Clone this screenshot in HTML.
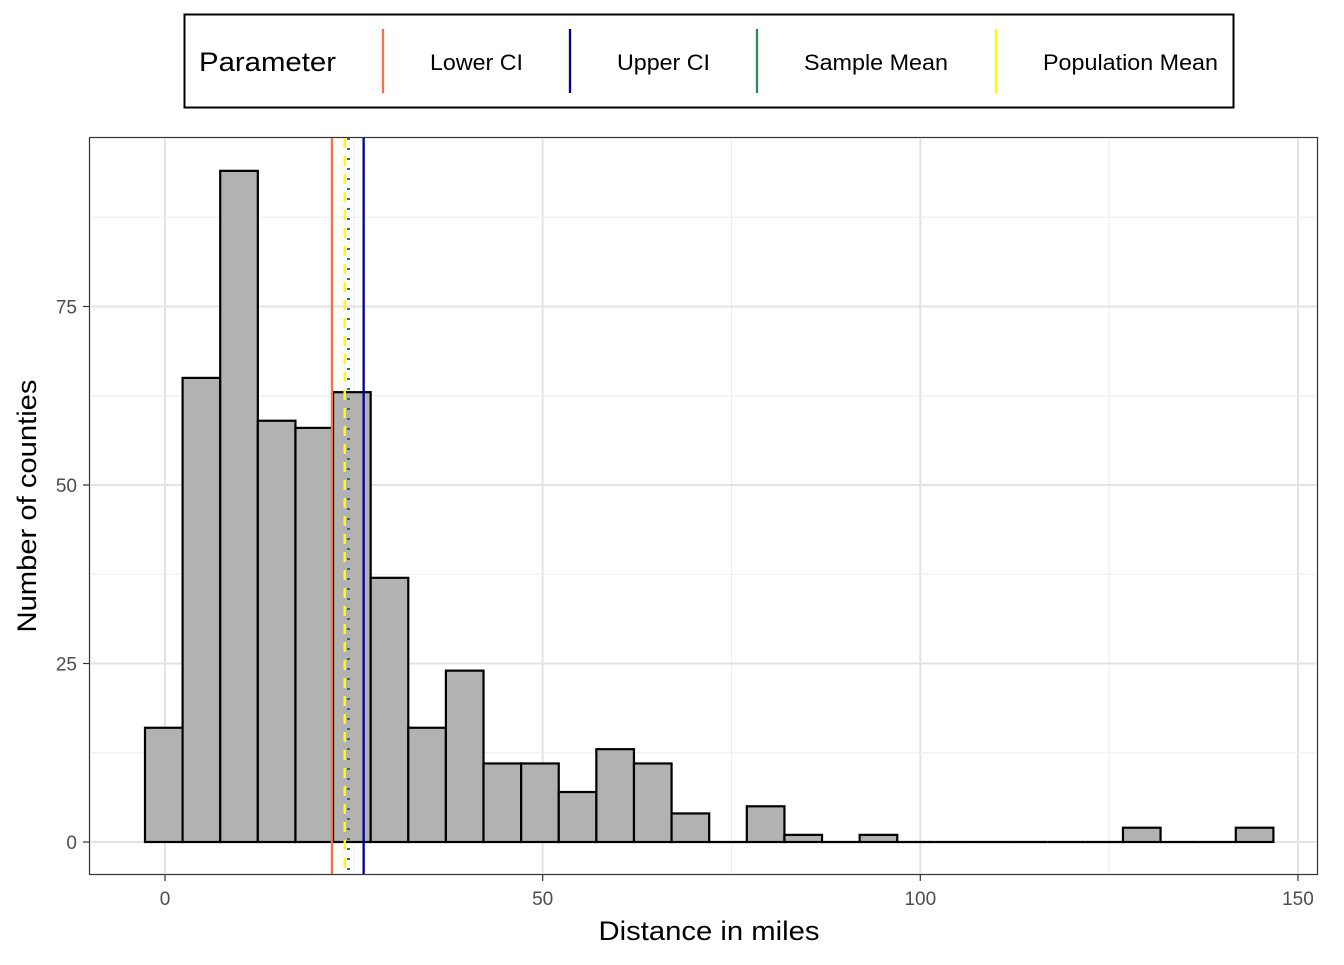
<!DOCTYPE html>
<html><head><meta charset="utf-8"><style>
body{margin:0;background:#fff;font-family:"Liberation Sans",Arial,sans-serif;}
</style></head><body>
<svg id="chart" width="1344" height="960" xmlns="http://www.w3.org/2000/svg" font-family="Liberation Sans, Arial, sans-serif">
<g>
<rect x="184.5" y="14.5" width="1049" height="93" fill="#fff" stroke="#000" stroke-width="2"/>
<text x="199" y="71" font-size="27" textLength="137" lengthAdjust="spacingAndGlyphs">Parameter</text>
<g id="legend-items"></g>
</g>
<rect x="89.5" y="137.5" width="1228" height="737" fill="#fff" stroke="#333" stroke-width="1.2"/>
<g id="grid"></g>
<g id="bars"></g>
<g id="vlines"></g>
<g id="axes"></g>
<text x="709" y="940" font-size="27" text-anchor="middle" textLength="221" lengthAdjust="spacingAndGlyphs">Distance in miles</text>
<text transform="translate(36,506) rotate(-90)" font-size="27" text-anchor="middle" textLength="253" lengthAdjust="spacingAndGlyphs">Number of counties</text>
</svg>
<script>
const binStart = -2.65;
const binWidth = 4.98;
const counts = [16,65,94,59,58,63,37,16,24,11,11,7,13,11,4,0,5,1,0,1,0,0,0,0,0,0,2,0,0,2];
const xTicks = [0,50,100,150];
const yTicks = [0,25,50,75];
const lineNames = ["Lower CI","Upper CI","Sample Mean","Population Mean"];
const lineValues = [22.1,26.3,24.3,23.8];
const lineColors = ["#f4724e","#00008b","#2e8b57","#ffff00"];
const NS="http://www.w3.org/2000/svg";
const X=v=>165+v*7.553;
const Y=v=>842-v*7.14;
function mk(t,a,p){const e=document.createElementNS(NS,t);for(const k in a)e.setAttribute(k,a[k]);p.appendChild(e);return e;}
const grid=document.getElementById('grid');
const minorX=[-25,25,75,125];
for(const v of xTicks.concat(minorX)){
 if(X(v)<90||X(v)>1317)continue;
 const g=mk('line',{x1:X(v),x2:X(v),y1:138,y2:874,stroke:xTicks.includes(v)?'#e3e3e3':'#eeeeee','stroke-width':xTicks.includes(v)?2:1},grid);
 
 
}
for(const v of yTicks.concat([12.5,37.5,62.5,87.5])){
 const g=mk('line',{x1:90,x2:1317,y1:Y(v),y2:Y(v),stroke:yTicks.includes(v)?'#e3e3e3':'#eeeeee','stroke-width':yTicks.includes(v)?2:1},grid);
 
 
}
const bars=document.getElementById('bars');
counts.forEach((c,i)=>{
 const x0=X(binStart+i*binWidth),x1=X(binStart+(i+1)*binWidth);
 if(c===0){
  const z=mk('line',{x1:x0,x2:x1,y1:Y(0),y2:Y(0),stroke:'#000','stroke-width':2.2},bars);
  
  
  return;
 }
 const r=mk('rect',{x:x0,y:Y(c),width:x1-x0,height:Y(0)-Y(c),fill:'#b2b2b2',stroke:'#000','stroke-width':2.2},bars);
 
 
});
const vl=document.getElementById('vlines');
const dashes=["", "", "2,8", "10,8"];
const order=[0,1,3,2];
const widths=[2.3,2.3,2.8,2.5];
const strokes=["#f4724e","#00008b","#2e6b4f","#ffff00"];
for(const i of order){
 const l=mk('line',{x1:X(lineValues[i]),x2:X(lineValues[i]),y1:138,y2:874,stroke:strokes[i],'stroke-width':widths[i]},vl);
 if(dashes[i])l.setAttribute('stroke-dasharray',dashes[i]);
 
 
}
const ax=document.getElementById('axes');
for(const v of xTicks){
 mk('line',{x1:X(v),x2:X(v),y1:875,y2:881,stroke:'#333','stroke-width':1.2},ax);
 const t=mk('text',{x:X(v),y:905,'font-size':19,fill:'#4d4d4d','text-anchor':'middle'},ax);
 t.textContent=v;
 
 
}
for(const v of yTicks){
 mk('line',{x1:83,x2:89,y1:Y(v),y2:Y(v),stroke:'#333','stroke-width':1.2},ax);
 const t=mk('text',{x:77,y:Y(v)+7,'font-size':19,fill:'#4d4d4d','text-anchor':'end'},ax);
 t.textContent=v;
 
 
}
const li=document.getElementById('legend-items');
const keyX=[383,570,757,996];
const labelW=[93,93,144,175];
lineNames.forEach((n,i)=>{
 const k=mk('line',{x1:keyX[i],x2:keyX[i],y1:29,y2:93,stroke:lineColors[i],'stroke-width':2.3},li);
 
 
 const t=mk('text',{x:keyX[i]+47,y:70,'font-size':22,textLength:labelW[i],lengthAdjust:'spacingAndGlyphs'},li);
 t.textContent=n;
 
 
});
</script>
</body></html>
